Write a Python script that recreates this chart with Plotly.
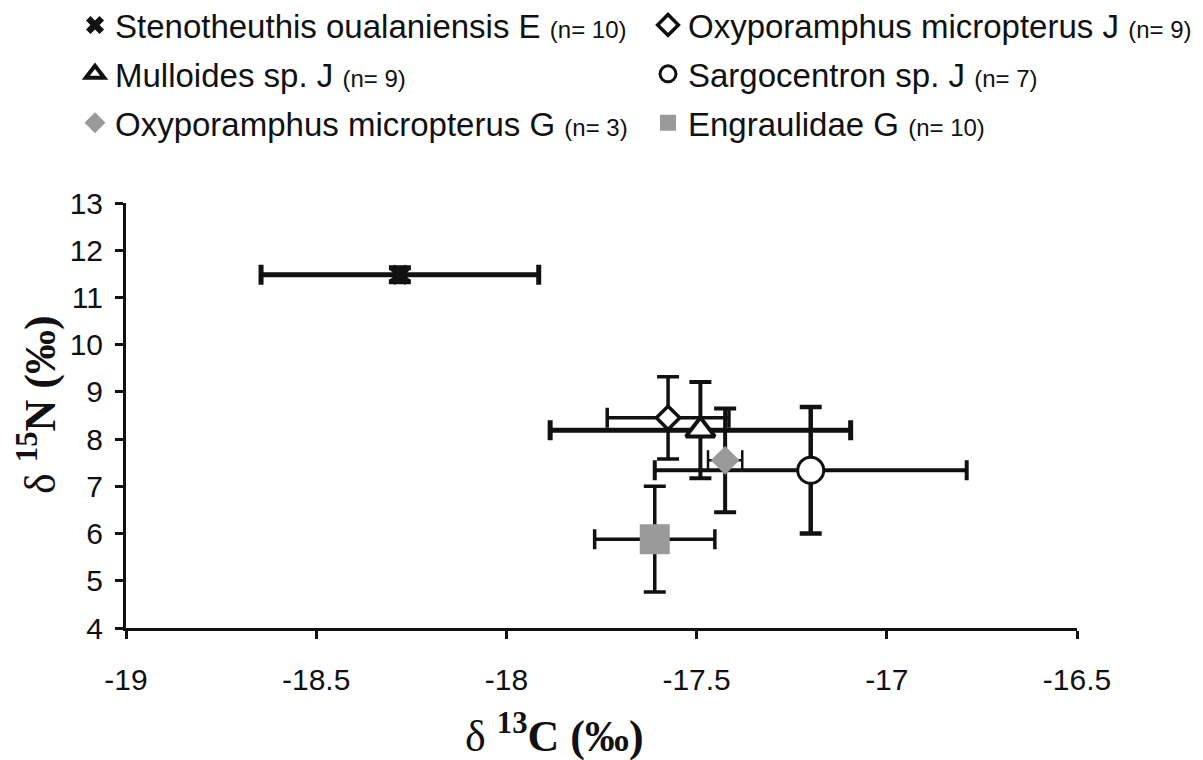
import plotly.graph_objects as go

# ---- data ----
names = [
    "Stenotheuthis oualaniensis E",
    "Oxyporamphus micropterus J",
    "Mulloides sp. J",
    "Sargocentron sp. J",
    "Oxyporamphus micropterus G",
    "Engraulidae G",
]
n_counts = [10, 9, 9, 7, 3, 10]
d13C = [-18.28, -17.575, -17.49, -17.20, -17.425, -17.61]
d13C_sd = [0.365, 0.16, 0.395, 0.41, 0.045, 0.158]
d15N = [11.48, 8.45, 8.19, 7.34, 7.55, 5.88]
d15N_sd = [0.15, 0.87, 1.02, 1.34, 1.10, 1.12]

x_ticks = [-19, -18.5, -18, -17.5, -17, -16.5]
x_ticktext = ["-19", "-18.5", "-18", "-17.5", "-17", "-16.5"]
y_ticks = [4, 5, 6, 7, 8, 9, 10, 11, 12, 13]

# ---- styles ----
symbols = ["x", "diamond", "triangle-up", "circle", "diamond", "square"]
fills = ["#111111", "white", "white", "white", "#9a9a9a", "#9a9a9a"]
lines = ["#111111", "#111111", "#111111", "#111111", "#9a9a9a", "#9a9a9a"]
line_w = [0, 3.5, 4, 3, 0, 0]
sizes = [18, 18, 25, 26, 22, 30]
ex_thick = [5, 3.5, 5, 4, 2.5, 3.5]
ey_thick = [5, 3.5, 4, 4.5, 4, 3.5]
legends = ["legend", "legend2", "legend", "legend2", "legend", "legend2"]

fig = go.Figure()
for i in range(len(names)):
    label = f"{names[i]} <span style='font-size:24px'>(n= {n_counts[i]})</span>"
    fig.add_trace(go.Scatter(
        x=[d13C[i]], y=[d15N[i]], mode="markers", name=label,
        legend=legends[i], legendgroup=f"g{i}",
        marker=dict(symbol=symbols[i], color=fills[i], size=sizes[i],
                    line=dict(color=lines[i], width=line_w[i])),
        error_x=dict(type="data", array=[d13C_sd[i]], color="#111111",
                     thickness=ex_thick[i], width=10),
        error_y=dict(type="data", array=[d15N_sd[i]], color="#111111",
                     thickness=ey_thick[i], width=11),
    ))

legend_font = dict(family="Liberation Sans, Arial, sans-serif", size=33, color="#111111")
tick_font = dict(family="Liberation Sans, Arial, sans-serif", size=30, color="#111111")
title_font = dict(family="Liberation Serif, Times New Roman, serif", size=44, color="#111111")

legend_top = (620 + 11) / 425  # paper units, a little above the figure top edge

fig.update_layout(
    width=1203, height=760,
    margin=dict(l=118, r=134, t=195, b=140, autoexpand=False),
    paper_bgcolor="white", plot_bgcolor="white",
    legend=dict(xref="container", yref="paper", x=67/1203, y=legend_top,
                xanchor="left", yanchor="top", font=legend_font,
                tracegroupgap=3, bgcolor="rgba(0,0,0,0)"),
    legend2=dict(xref="container", yref="paper", x=640/1203, y=legend_top,
                 xanchor="left", yanchor="top", font=legend_font,
                 tracegroupgap=3, bgcolor="rgba(0,0,0,0)"),
    xaxis=dict(range=[-19, -16.5], tickvals=x_ticks, ticktext=x_ticktext,
               automargin=False,
               showgrid=False, zeroline=False, showline=True, linecolor="#111111",
               linewidth=3, ticks="outside", ticklen=8, tickwidth=3, tickcolor="#111111",
               tickfont=tick_font, ticklabelstandoff=15),
    yaxis=dict(range=[4, 13], tickvals=y_ticks,
               automargin=False,
               showgrid=False, zeroline=False, showline=True, linecolor="#111111",
               linewidth=3, ticks="outside", ticklen=8, tickwidth=3, tickcolor="#111111",
               tickfont=tick_font, ticklabelstandoff=6),
    annotations=[
        dict(text="δ <b><sup>13</sup>C (‰)</b>", xref="paper", yref="paper",
             x=(546 - 118) / 951, y=(620 - 725) / 425, xanchor="center", yanchor="middle",
             showarrow=False, font=title_font),
        dict(text="δ <b><sup>15</sup>N (‰)</b>", xref="paper", yref="paper",
             x=(29 - 118) / 951, y=(620 - 397) / 425, xanchor="center", yanchor="middle",
             textangle=-90, showarrow=False, font=title_font),
    ],
)

fig.write_html("out.html")
